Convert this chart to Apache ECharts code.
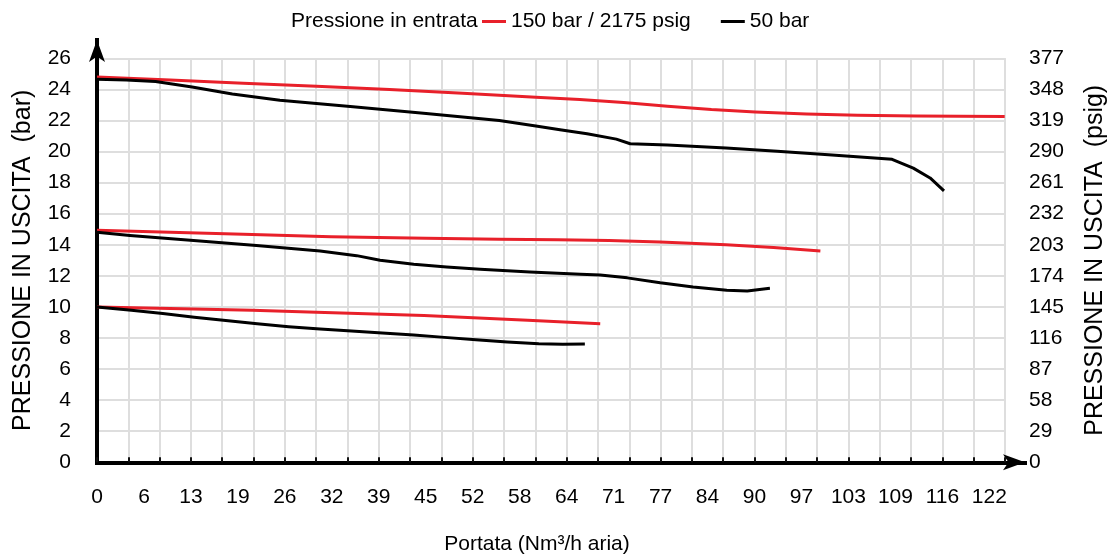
<!DOCTYPE html>
<html>
<head>
<meta charset="utf-8">
<script src="https://cdn.jsdelivr.net/npm/echarts@6/dist/echarts.min.js"></script>
<style>
html,body{margin:0;padding:0;background:#fff;}
#chart{width:1111px;height:555px;}
</style>
</head>
<body>
<div id="chart"></div>
<script>
// ---- data (x: Nm3/h aria, y: bar) ----
const xTickLabels = ['0','6','13','19','26','32','39','45','52','58','64','71','77','84','90','97','103','109','116','122'];
const barTickLabels = ['0','2','4','6','8','10','12','14','16','18','20','22','24','26'];
const psigTickLabels = ['0','29','58','87','116','145','174','203','232','261','290','319','348','377'];

const seriesRedName = '150 bar / 2175 psig';
const seriesBlackName = '50 bar';

const red25 = [[0,24.8],[10,24.6],[20,24.4],[30,24.2],[40,24.0],[50,23.75],[60,23.5],[66,23.35],[72,23.15],[78,22.92],[84,22.7],[90,22.55],[97,22.42],[104,22.33],[112,22.28],[124.1,22.26]];
const black25 = [[0,24.65],[4,24.6],[8,24.5],[13,24.15],[18.5,23.7],[25,23.3],[35,22.88],[45,22.45],[55,22.0],[60,21.65],[63.3,21.4],[67,21.15],[71,20.8],[72.9,20.5],[78,20.42],[86,20.22],[93,20.02],[100,19.8],[108.7,19.5],[111.6,18.93],[113.9,18.3],[115.8,17.47]];
const red15 = [[0,14.93],[10,14.8],[20,14.68],[32,14.52],[45,14.42],[55,14.36],[63,14.32],[70,14.27],[77,14.18],[86,14.0],[92.5,13.83],[98.9,13.6]];
const black15 = [[0,14.8],[4.5,14.6],[13.2,14.27],[21.8,13.95],[30.5,13.6],[35.5,13.3],[38.7,13.0],[43.3,12.75],[47.8,12.57],[52.4,12.42],[59.2,12.25],[66.1,12.1],[68.8,12.05],[72.5,11.87],[77,11.55],[81.5,11.28],[86.1,11.07],[88.9,11.03],[92,11.2]];
const red10 = [[0,10.0],[10,9.9],[21.2,9.78],[30,9.65],[44.7,9.44],[58.9,9.14],[68.8,8.92]];
const black10 = [[0,10.0],[4.7,9.78],[9,9.57],[13.3,9.33],[17.6,9.12],[21.9,8.92],[26.2,8.73],[30.5,8.58],[34.8,8.45],[39,8.32],[43.3,8.19],[47.5,8.04],[51.8,7.89],[56.1,7.74],[60.4,7.63],[63.7,7.59],[66.7,7.61]];

// ---- axis scale settings ----
const GRID_STEP = 122 / 28.5;        // vertical gridline step (Nm3/h)
const LABEL_STEP = GRID_STEP * 1.5;  // tick label step
const X_MAX = GRID_STEP * 29;
const Y_MAX = 26, Y_STEP = 2;

const FONT = "'Liberation Sans',Arial,sans-serif";
const RED = '#e8202a', BLACK = '#000000', GRIDC = '#dedede';

const chart = echarts.init(document.getElementById('chart'), null, {renderer:'canvas'});

function lineSeries(name, data, color){
  return {name, type:'line', data, xAxisIndex:0, yAxisIndex:0, showSymbol:false, symbol:'none',
    lineStyle:{color, width:3, join:'round'}, itemStyle:{color}, z:5, animation:false};
}

const option = {
  animation:false,
  backgroundColor:'#fff',
  textStyle:{fontFamily:FONT, color:'#000'},
  title:{text:'Pressione in entrata', left:291, top:11, padding:0,
    textStyle:{fontFamily:FONT, fontSize:21, fontWeight:'normal', color:'#000'}},
  legend:{left:482, top:11, padding:0, icon:'rect', itemWidth:24, itemHeight:3, itemGap:30,
    data:[seriesRedName, seriesBlackName],
    textStyle:{fontFamily:FONT, fontSize:21, color:'#000'}},
  grid:[
    {left:97, right:106, top:58.3, bottom:92.7, containLabel:false, outerBoundsMode:'none'},
    {left:97, right:86, top:40, bottom:92.7, containLabel:false, outerBoundsMode:'none'}
  ],
  xAxis:[
    {gridIndex:0, type:'value', min:0, max:X_MAX, interval:GRID_STEP, position:'bottom',
      axisLine:{show:false, onZero:false},
      axisTick:{show:true, inside:true, length:5, lineStyle:{color:'#111', width:2}},
      axisLabel:{show:false},
      splitLine:{show:true, lineStyle:{color:GRIDC, width:2}}},
    {gridIndex:0, type:'value', min:0, max:X_MAX, interval:LABEL_STEP, position:'bottom',
      axisLine:{show:false, onZero:false}, axisTick:{show:false}, splitLine:{show:false},
      axisLabel:{show:true, margin:24, fontSize:21, fontFamily:FONT, color:'#000', showMaxLabel:false,
        formatter:v => { const i = Math.round(v / LABEL_STEP); return Math.abs(v - i*LABEL_STEP) < 1e-6 ? (xTickLabels[i] ?? '') : ''; }},
      name:'Portata (Nm³/h aria)', nameLocation:'middle', nameGap:71,
      nameTextStyle:{fontFamily:FONT, fontSize:21, color:'#000', padding:[0,28,0,0]}},
    {gridIndex:1, type:'value', min:0, max:1, position:'bottom',
      axisLine:{show:true, onZero:false, symbol:['none','arrow'], symbolSize:[12,22],
        lineStyle:{color:'#000', width:4, cap:'square'}},
      axisTick:{show:false}, axisLabel:{show:false}, splitLine:{show:false}}
  ],
  yAxis:[
    {gridIndex:0, type:'value', min:0, max:Y_MAX, interval:Y_STEP, position:'left',
      axisLine:{show:false}, axisTick:{show:false},
      axisLabel:{margin:26, fontSize:21, fontFamily:FONT, color:'#000',
        formatter:v => barTickLabels[Math.round(v / Y_STEP)] ?? ''},
      splitLine:{show:true, lineStyle:{color:GRIDC, width:2}},
      name:'PRESSIONE IN USCITA  (bar)', nameLocation:'middle', nameGap:61, nameRotate:90,
      nameTextStyle:{fontFamily:FONT, fontSize:25, color:'#000'}},
    {gridIndex:0, type:'value', min:0, max:Y_MAX, interval:Y_STEP, position:'right',
      axisLine:{show:false}, axisTick:{show:false}, splitLine:{show:false},
      axisLabel:{margin:24, fontSize:21, fontFamily:FONT, color:'#000',
        formatter:v => psigTickLabels[Math.round(v / Y_STEP)] ?? ''},
      name:'PRESSIONE IN USCITA  (psig)', nameLocation:'middle', nameGap:78, nameRotate:90,
      nameTextStyle:{fontFamily:FONT, fontSize:25, color:'#000'}},
    {gridIndex:1, type:'value', min:0, max:1, position:'left',
      axisLine:{show:true, onZero:false, symbol:['none','arrow'], symbolSize:[12,22],
        lineStyle:{color:'#000', width:4, cap:'square'}},
      axisTick:{show:false}, axisLabel:{show:false}, splitLine:{show:false}}
  ],
  series:[
    lineSeries(seriesRedName, red25, RED),
    lineSeries(seriesBlackName, black25, BLACK),
    lineSeries(seriesRedName, red15, RED),
    lineSeries(seriesBlackName, black15, BLACK),
    lineSeries(seriesRedName, red10, RED),
    lineSeries(seriesBlackName, black10, BLACK)
  ]
};
chart.setOption(option);
</script>
</body>
</html>
